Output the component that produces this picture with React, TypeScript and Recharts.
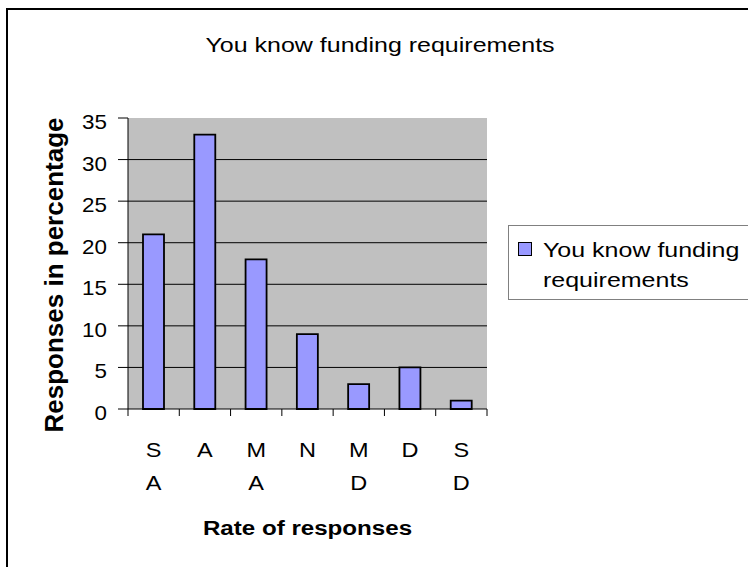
import React from 'react';
import { BarChart, Bar, XAxis, YAxis, CartesianGrid, Legend } from 'recharts';

const categories = ['S\nA', 'A', 'M\nA', 'N', 'M\nD', 'D', 'S\nD'];
const responses = [21, 33, 18, 9, 3, 5, 1];
const yTicks = [0, 5, 10, 15, 20, 25, 30, 35];
const gridTicks = [5, 10, 15, 20, 25, 30];
const seriesName = 'You know funding requirements';
const legendLines = ['You know funding', 'requirements'];
const title = 'You know funding requirements';
const xTitle = 'Rate of responses';
const yTitle = 'Responses in percentage';

const data = categories.map((name, i) => ({ name, value: responses[i] }));

const FONT = '"Liberation Sans", Arial, sans-serif';
const W = 748;
const H = 567;
const PLOT_LEFT = 128;
const PLOT_RIGHT = 487;
const PLOT_TOP = 118;
const PLOT_BOTTOM = 409;
const BAND = (PLOT_RIGHT - PLOT_LEFT) / categories.length;

const XTick = (props: any) => {
  const { x, y, payload, index } = props;
  const lines = String(payload.value).split('\n');
  const half = BAND / 2;
  return (
    <g>
      <line x1={x - half} x2={x - half} y1={y} y2={y + 7} stroke="#000" />
      {index === categories.length - 1 && (
        <line x1={x + half} x2={x + half} y1={y} y2={y + 7} stroke="#000" />
      )}
      {lines.map((t, i) => (
        <text
          key={i}
          transform={`translate(${x},${y + 48 + i * 33}) scale(1.12,1)`}
          textAnchor="middle"
          fontFamily={FONT}
          fontSize={21}
          fill="#000"
        >
          {t}
        </text>
      ))}
    </g>
  );
};

const YTick = (props: any) => {
  const { x, y, payload } = props;
  return (
    <text
      transform={`translate(${x},${y + 11}) scale(1.12,1)`}
      textAnchor="end"
      fontFamily={FONT}
      fontSize={20}
      fill="#000"
    >
      {payload.value}
    </text>
  );
};

const LegendBox = () => (
  <svg width={260} height={76} style={{ display: 'block' }}>
    <rect x={0.5} y={0.5} width={300} height={74} fill="#fff" stroke="#808080" />
    <rect x={10.5} y={17.5} width={13} height={13} fill="#9999FF" stroke="#000" />
    {legendLines.map((t, i) => (
      <text
        key={i}
        transform={`translate(35,${32 + i * 30}) scale(1.19,1)`}
        fontFamily={FONT}
        fontSize={21}
        fill="#000"
      >
        {t}
      </text>
    ))}
  </svg>
);

export default function App() {
  return (
    <div style={{ position: 'absolute', left: 0, top: 0, width: W, height: H, background: '#fff', overflow: 'hidden' }}>
      <div
        style={{
          position: 'absolute',
          left: 6,
          top: 8,
          width: W + 20,
          height: H + 20,
          borderLeft: '2px solid #000',
          borderTop: '2px solid #000',
        }}
      />
      <BarChart
        width={W}
        height={H}
        data={data}
        margin={{ top: PLOT_TOP, right: W - PLOT_RIGHT, bottom: H - PLOT_BOTTOM - 30, left: PLOT_LEFT - 60 }}
        barSize={21}
      >
        <CartesianGrid
          vertical={false}
          stroke="#000"
          fill="#C0C0C0"
          fillOpacity={1}
          syncWithTicks={false}
          horizontalValues={gridTicks}
        />
        <XAxis
          dataKey="name"
          height={30}
          interval={0}
          tickLine={false}
          tickSize={0}
          tickMargin={0}
          axisLine={{ stroke: '#000' }}
          tick={<XTick />}
        />
        <XAxis
          xAxisId="frame"
          dataKey="name"
          orientation="top"
          height={0}
          tick={false}
          tickLine={false}
          axisLine={{ stroke: '#808080' }}
        />
        <YAxis
          width={60}
          domain={[0, 35]}
          ticks={yTicks}
          tickSize={10}
          tickMargin={11}
          tickLine={{ stroke: '#000' }}
          axisLine={{ stroke: '#000' }}
          tick={<YTick />}
        />
        <YAxis
          yAxisId="frame"
          orientation="right"
          width={0}
          domain={[0, 35]}
          tick={false}
          tickLine={false}
          axisLine={{ stroke: '#808080' }}
        />
        <Legend
          layout="horizontal"
          verticalAlign="middle"
          align="center"
          wrapperStyle={{ left: 508, top: 225, width: 260, height: 76 }}
          content={() => <LegendBox />}
        />
        <Bar
          dataKey="value"
          name={seriesName}
          fill="#9999FF"
          stroke="#000"
          strokeWidth={1.8}
          isAnimationActive={false}
        />
        <text
          transform={`translate(380,52) scale(1.19,1)`}
          textAnchor="middle"
          fontFamily={FONT}
          fontSize={21}
          fill="#000"
        >
          {title}
        </text>
        <text
          transform={`translate(${(PLOT_LEFT + PLOT_RIGHT) / 2},535) scale(1.15,1)`}
          textAnchor="middle"
          fontFamily={FONT}
          fontSize={21}
          fontWeight="bold"
          fill="#000"
        >
          {xTitle}
        </text>
        <text
          transform={`translate(63,275) rotate(-90)`}
          textAnchor="middle"
          fontFamily={FONT}
          fontSize={26}
          fontWeight="bold"
          fill="#000"
        >
          {yTitle}
        </text>
      </BarChart>
    </div>
  );
}
